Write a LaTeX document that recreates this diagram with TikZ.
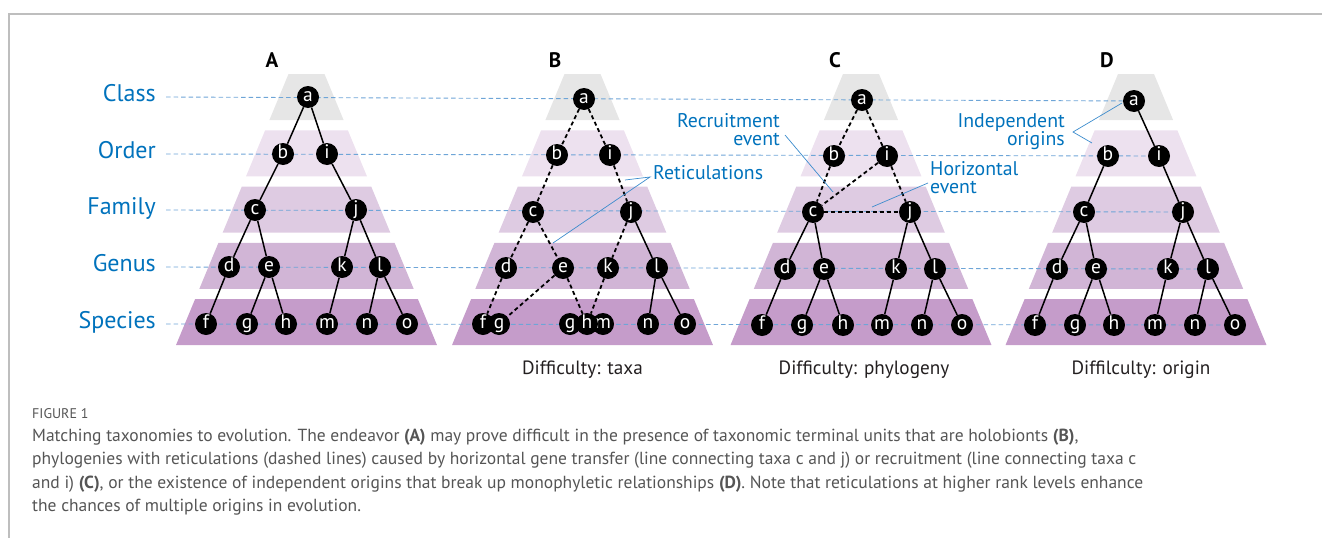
\documentclass[tikz,border=0pt]{standalone}
\usepackage{fontspec}
\newfontfamily\figfont{PT Sans}
\newfontfamily\capfont{PT Sans}

\definecolor{bandI}{RGB}{230,230,230}
\definecolor{bandII}{RGB}{237,225,239}
\definecolor{bandIII}{RGB}{222,203,226}
\definecolor{bandIV}{RGB}{209,181,214}
\definecolor{bandV}{RGB}{197,156,202}
\definecolor{rankblue}{RGB}{0,114,188}
\definecolor{guideblue}{RGB}{110,165,215}
\definecolor{annoblue}{RGB}{60,140,205}
\definecolor{framegray}{RGB}{190,190,190}
\definecolor{capgray}{RGB}{85,85,85}
\definecolor{figtext}{RGB}{35,31,32}

\pgfdeclarelayer{bands}
\pgfdeclarelayer{guides}
\pgfdeclarelayer{edges}
\pgfsetlayers{bands,guides,edges,main}

\tikzset{
  taxon/.style={circle, fill=black, minimum size=22pt, inner sep=0pt, text=white,
    font=\figfont\fontsize{19.5}{19.5}\selectfont, text height=9.7pt, text depth=0pt},
  tree/.style={line width=1.5pt, black},
  ret/.style={line width=1.8pt, black, dash pattern=on 4pt off 3pt},
  guide/.style={line width=0.9pt, guideblue, dash pattern=on 4.5pt off 3pt},
  anno/.style={line width=0.7pt, annoblue},
  rank/.style={anchor=base east, text=rankblue, font=\figfont\fontsize{24}{24}\selectfont, inner sep=0pt},
  note/.style={text=rankblue, font=\figfont\fontsize{19.8}{18}\selectfont, inner sep=0pt},
  panel/.style={text=black, font=\figfont\bfseries\fontsize{21}{21}\selectfont, inner sep=0pt},
  difficulty/.style={anchor=base, text=figtext, font=\figfont\fontsize{19.2}{19.2}\selectfont, inner sep=0pt},
  capline/.style={anchor=base west, text=capgray, font=\capfont\fontsize{17.5}{17.5}\selectfont, inner sep=0pt},
}

\begin{document}
\begin{tikzpicture}[x=1pt,y=-1pt]
\useasboundingbox (0,0) rectangle (1322,538);

% frame
\draw[framegray, line width=2pt] (1322,14) -- (9,14) -- (9,538);

% rank bands of the four pyramids
\begin{pgfonlayer}{bands}
\foreach \cx in {306.5,582.5,861,1136} {
  \foreach \k/\col in {0/bandI,1/bandII,2/bandIII,3/bandIV,4/bandV} {
    \pgfmathsetmacro\yt{74+56.25*\k}
    \pgfmathsetmacro\yb{\yt+46}
    \pgfmathsetmacro\wt{18+0.415*(\yt-74)}
    \pgfmathsetmacro\wb{18+0.415*(\yb-74)}
    \fill[\col] (\cx-\wt,\yt) -- (\cx+\wt,\yt) -- (\cx+\wb,\yb) -- (\cx-\wb,\yb) -- cycle;
  }
}
\end{pgfonlayer}

% rank labels
\node[rank] (rClass)   at (156,101.5) {Class};
\node[rank] (rOrder)   at (156,158.5) {Order};
\node[rank] (rFamily)  at (156,214.5) {Family};
\node[rank] (rGenus)   at (156,271.5) {Genus};
\node[rank] (rSpecies) at (156,328.5) {Species};

% panel letters
\node[panel] (pA) at (272,60) {A};
\node[panel] (pB) at (555,60) {B};
\node[panel] (pC) at (835,60) {C};
\node[panel] (pD) at (1107,60) {D};

% panel A
\foreach \n/\x/\y in {a/308/97, b/283/154, i/327/154, c/255/210, j/356/210,
  d/229/267, e/269/267, k/342/267, l/380/267,
  f/206/324, g/247/324, h/286/324, m/327/324, n/367/324, o/407/324}
  \node[taxon] (A-\n) at (\x,\y) {\n};

% panel B
\foreach \n/\t/\x/\y in {a/a/584/99, b/b/557/155, i/i/610/155, c/c/533/212, j/j/631/212,
  d/d/506/268, e/e/563/268, k/k/608/268, l/l/657/268,
  f/f/483/324, g1/g/499/324, g2/g/570/324, m/m/603/324, h/h/587/324, n/n/648/324, o/o/685/324}
  \node[taxon] (B-\n) at (\x,\y) {\t};

% panel C
\foreach \n/\x/\y in {a/862/100, b/834/156, i/887/156, c/813/212, j/910/212,
  d/785/269, e/824/269, k/896/269, l/935/269,
  f/762/325, g/802/325, h/843/325, m/882/325, n/922/325, o/962/325}
  \node[taxon] (C-\n) at (\x,\y) {\n};

% panel D
\foreach \n/\x/\y in {a/1134/101, b/1108/156, i/1159/156, c/1084/212, j/1183/212,
  d/1057/269, e/1096/269, k/1168/269, l/1208/269,
  f/1035/325, g/1075/325, h/1114/325, m/1155/325, n/1195/325, o/1235/325}
  \node[taxon] (D-\n) at (\x,\y) {\n};

% rank guide lines
\coordinate (gClass)   at (166,97);
\coordinate (gOrder)   at (166,154);
\coordinate (gFamily)  at (166,210);
\coordinate (gGenus)   at (166,267);
\coordinate (gSpecies) at (166,324);
\begin{pgfonlayer}{guides}
\draw[guide] (gClass)   -- (D-a.center);
\draw[guide] (gOrder)   -- (D-i.center);
\draw[guide] (gFamily)  -- (D-j.center);
\draw[guide] (gGenus)   -- (D-l.center);
\draw[guide] (gSpecies) -- (D-o.center);
\end{pgfonlayer}

% branches
\begin{pgfonlayer}{edges}
\foreach \u/\v in {a/b,a/i,b/c,i/j,c/d,c/e,j/k,j/l,d/f,e/g,e/h,k/m,l/n,l/o}
  \draw[tree] (A-\u) -- (A-\v);
\foreach \u/\v in {a/b,a/i,b/c,i/j,c/d,c/e,j/k,d/f,e/g1,e/h,k/h}
  \draw[ret] (B-\u) -- (B-\v);
\foreach \u/\v in {j/l,l/n,l/o}
  \draw[tree] (B-\u) -- (B-\v);
\foreach \u/\v in {a/b,a/i,b/c,i/c,i/j,c/j}
  \draw[ret] (C-\u) -- (C-\v);
\foreach \u/\v in {c/d,c/e,d/f,e/g,e/h,j/k,j/l,k/m,l/n,l/o}
  \draw[tree] (C-\u) -- (C-\v);
\foreach \u/\v in {a/i,b/c,i/j,c/d,c/e,d/f,e/g,e/h,j/k,j/l,k/m,l/n,l/o}
  \draw[tree] (D-\u) -- (D-\v);
\end{pgfonlayer}

% annotations
\node[note, anchor=base west] (tRet) at (653,179) {Reticulations};
\coordinate (retHub) at (650,177);
\coordinate (retA) at (625,180);
\coordinate (retB) at (553,243);
\draw[anno] (retA) -- (retHub) -- (retB);

\node[note, anchor=base east] (tRec) at (780,127) {Recruitment};
\node[note, anchor=base east] (tRec2) at (780,145) {event};
\coordinate (recS) at (785,135);
\coordinate (recE) at (833,192);
\draw[anno] (recS) -- (recE);

\node[note, anchor=base west] (tHor) at (930,175) {Horizontal};
\node[note, anchor=base west] (tHor2) at (930,193) {event};
\coordinate (horS) at (928,183);
\coordinate (horE) at (872,207);
\draw[anno] (horS) -- (horE);

\node[note, anchor=base east] (tInd) at (1065,127) {Independent};
\node[note, anchor=base east] (tInd2) at (1065,145) {origins};
\coordinate (indHub) at (1073,132);
\coordinate (indA) at (1122,103);
\coordinate (indB) at (1092,143);
\draw[anno] (indA) -- (indHub) -- (indB);

% difficulty captions
\node[difficulty] (dB) at (582.5,374) {Difficulty: taxa};
\node[difficulty] (dC) at (864,374) {Difficulty: phylogeny};
\node[difficulty] (dD) at (1141,374) {Diffilculty: origin};

% figure caption
\node[anchor=base west, text=capgray, font=\capfont\fontsize{14}{14}\selectfont, inner sep=0pt] (fig) at (32,418) {FIGURE 1};
\node[capline] (cap1) at (32,441) {Matching taxonomies to evolution. The endeavor \textbf{(A)} may prove difficult in the presence of taxonomic terminal units that are holobionts \textbf{(B)},};
\node[capline] (cap2) at (32,464.5) {phylogenies with reticulations (dashed lines) caused by horizontal gene transfer (line connecting taxa c and j) or recruitment (line connecting taxa c};
\node[capline] (cap3) at (32,488) {and i) \textbf{(C)}, or the existence of independent origins that break up monophyletic relationships \textbf{(D)}. Note that reticulations at higher rank levels enhance};
\node[capline] (cap4) at (32,511) {the chances of multiple origins in evolution.};
\end{tikzpicture}
\end{document}
